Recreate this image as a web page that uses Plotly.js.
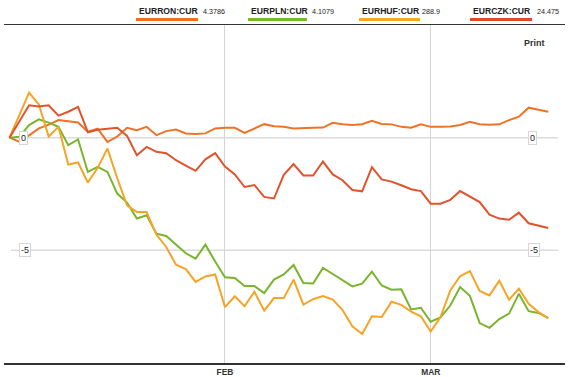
<!DOCTYPE html>
<html>
<head>
<meta charset="utf-8">
<script src="https://cdn.plot.ly/plotly-3.0.1.min.js"></script>
<style>
  html, body { margin: 0; padding: 0; background: #fff; }
  #chart { width: 569px; height: 377px; }
</style>
</head>
<body>
<div id="chart"></div>
<script>
// ---------- DATA ----------
const dates = [
  '2012-01-02','2012-01-03','2012-01-04','2012-01-05','2012-01-06',
  '2012-01-09','2012-01-10','2012-01-11','2012-01-12','2012-01-13',
  '2012-01-16','2012-01-17','2012-01-18','2012-01-19','2012-01-20',
  '2012-01-23','2012-01-24','2012-01-25','2012-01-26','2012-01-27',
  '2012-01-30','2012-01-31',
  '2012-02-01','2012-02-02','2012-02-03',
  '2012-02-06','2012-02-07','2012-02-08','2012-02-09','2012-02-10',
  '2012-02-13','2012-02-14','2012-02-15','2012-02-16','2012-02-17',
  '2012-02-20','2012-02-21','2012-02-22','2012-02-23','2012-02-24',
  '2012-02-27','2012-02-28','2012-02-29',
  '2012-03-01','2012-03-02',
  '2012-03-05','2012-03-06','2012-03-07','2012-03-08','2012-03-09',
  '2012-03-12','2012-03-13','2012-03-14','2012-03-15','2012-03-16',
  '2012-03-19'
];

const seriesNames = ['EURRON:CUR', 'EURPLN:CUR', 'EURHUF:CUR', 'EURCZK:CUR'];
const lastPrices  = ['4.3786', '4.1079', '288.9', '24.475'];

// percent change since start
const ron = [0, -0.18, 0.1, 0.41, 0.58, 0.78, 0.73, 0.67, 0.26, 0.4,
  -0.19, 0.05, 0.44, 0.33, 0.48, 0.11, 0.29, 0.36, 0.19, 0.16,
  0.19, 0.41, 0.44, 0.44, 0.21, 0.41, 0.6, 0.51, 0.48, 0.41,
  0.41, 0.44, 0.45, 0.66, 0.6, 0.56, 0.6, 0.75, 0.61, 0.59,
  0.48, 0.44, 0.59, 0.48, 0.48, 0.5, 0.56, 0.7, 0.6, 0.57,
  0.59, 0.78, 0.93, 1.33, 1.24, 1.15];

const pln = [0, 0.04, 0.56, 0.81, 0.67, 0.48, -0.33, -0.08, -1.52, -1.3,
  -1.52, -2.48, -2.88, -3.59, -3.44, -4.26, -4.36, -4.75, -5.13, -5.37,
  -4.75, -5.5, -6.2, -6.23, -6.58, -6.58, -6.9, -6.3, -6.07, -5.65,
  -6.45, -6.47, -5.78, -6.05, -6.32, -6.6, -6.48, -5.95, -6.56, -6.75,
  -6.73, -7.62, -7.55, -8.17, -7.98, -7.45, -6.63, -7.02, -8.23, -8.44,
  -8.05, -7.81, -6.93, -7.7, -7.78, -8.01];

const huf = [0, 1.0, 2.0, 1.47, 0.05, 0.48, -1.19, -1.1, -1.99, -1.34,
  -0.48, -1.8, -3.0, -3.3, -3.3, -4.3, -4.85, -5.64, -5.83, -6.4,
  -6.16, -6.07, -7.52, -7.04, -7.48, -6.84, -7.68, -7.12, -7.12, -6.3,
  -7.41, -7.17, -7.03, -7.19, -7.65, -8.37, -8.71, -7.93, -7.96, -7.28,
  -7.42, -7.72, -7.93, -8.6, -7.96, -6.78, -6.15, -5.92, -6.8, -7.0,
  -6.35, -7.19, -6.7, -7.37, -7.74, -8.01];

const czk = [0, 0.75, 1.44, 1.38, 1.44, 0.98, 1.15, 1.37, 0.24, 0.35,
  0.4, 0.44, 0.08, -0.78, -0.41, -0.63, -0.69, -1.0, -1.24, -1.47,
  -0.96, -0.69, -1.28, -1.63, -2.19, -2.1, -2.63, -2.7, -1.65, -1.17,
  -1.68, -1.68, -1.06, -1.63, -1.89, -2.32, -2.38, -1.31, -1.85, -1.95,
  -2.11, -2.29, -2.37, -2.93, -2.93, -2.76, -2.37, -2.63, -2.86, -3.42,
  -3.59, -3.64, -3.33, -3.8, -3.92, -4.01];

const xTickVals  = ['2012-02-01', '2012-03-01'];
const xTickText  = ['FEB', 'MAR'];
const yTickVals  = [0, -5];
const yTickText  = ['0', '-5'];

// ---------- STYLE ----------
const lineColors   = ['#ef7226', '#78b52c', '#f4a427', '#e0532c'];
const legendColors = ['#f26d1f', '#76b82a', '#f7a81e', '#e2482a'];
const allSeries = [ron, pln, huf, czk];

const W = 569, H = 377;
const M = {l: 4, r: 4, t: 25, b: 14};
const plotW = W - M.l - M.r;
const plotH = H - M.t - M.b;
const px = v => (v - M.l) / plotW;          // pixel x -> paper
const py = v => (H - M.b - v) / plotH;      // pixel y -> paper

const traces = allSeries.map((ys, i) => ({
  type: 'scatter',
  mode: 'lines',
  x: dates,
  y: ys,
  name: seriesNames[i],
  line: {color: lineColors[i], width: 2},
  hoverinfo: 'skip'
}));

const shapes = [];
const annotations = [];

// horizontal reference lines
yTickVals.forEach(v => {
  shapes.push({type: 'line', xref: 'paper', yref: 'y', x0: px(11), x1: px(558), y0: v, y1: v,
    line: {color: '#dcdcdc', width: 1.5}, layer: 'below'});
});

// y labels in small boxes, left and right
yTickVals.forEach((v, i) => {
  [19.3, 528.3].forEach(xp => {
    annotations.push({xref: 'paper', yref: 'y', x: px(xp), y: v, xanchor: 'left', yanchor: 'middle',
      text: yTickText[i], showarrow: false, font: {family: 'Liberation Sans, Arial', size: 9, color: '#222'},
      bgcolor: '#ffffff', bordercolor: '#d6d6d6', borderwidth: 1, borderpad: 1});
  });
});

// custom legend on top
const nameX  = [137, 249, 360, 471];
const valueX = [201, 310, 420, 535];
const barX0  = [136, 248, 359, 470];
const barX1  = [198, 307, 420, 532];
seriesNames.forEach((n, i) => {
  annotations.push({xref: 'paper', yref: 'paper', x: px(nameX[i]), y: py(11), xanchor: 'left', yanchor: 'middle',
    text: '<b>' + n + '</b>', showarrow: false, font: {family: 'Liberation Sans, Arial', size: 8.6, color: '#222'}});
  annotations.push({xref: 'paper', yref: 'paper', x: px(valueX[i]), y: py(11), xanchor: 'left', yanchor: 'middle',
    text: lastPrices[i], showarrow: false, font: {family: 'Liberation Sans, Arial', size: 7.2, color: '#222'}});
  shapes.push({type: 'line', xref: 'paper', yref: 'paper', x0: px(barX0[i]), x1: px(barX1[i]), y0: py(19.5), y1: py(19.5),
    line: {color: legendColors[i], width: 3}});
});

annotations.push({xref: 'paper', yref: 'paper', x: px(547), y: py(43), xanchor: 'right', yanchor: 'middle',
  text: '<b>Print</b>', showarrow: false, font: {family: 'Liberation Sans, Arial', size: 9, color: '#333'}});

const layout = {
  width: W, height: H,
  margin: M,
  paper_bgcolor: '#ffffff',
  plot_bgcolor: '#ffffff',
  showlegend: false,
  xaxis: {
    type: 'category',
    range: [-0.56, 56.71],
    tickmode: 'array',
    tickvals: xTickVals,
    ticktext: xTickText.map(t => '<b>' + t + '</b>'),
    showgrid: true,
    gridcolor: '#d4d4d4',
    gridwidth: 1,
    showline: true,
    linecolor: '#333',
    linewidth: 1.5,
    mirror: true,
    ticks: '',
    zeroline: false,
    tickfont: {family: 'Liberation Sans, Arial', size: 8.4, color: '#333'},
    fixedrange: true
  },
  yaxis: {
    range: [-10, 5],
    showgrid: false,
    zeroline: false,
    showticklabels: false,
    showline: false,
    ticks: '',
    fixedrange: true
  },
  shapes: shapes,
  annotations: annotations
};

Plotly.newPlot('chart', traces, layout, {displayModeBar: false, staticPlot: true});
</script>
</body>
</html>
